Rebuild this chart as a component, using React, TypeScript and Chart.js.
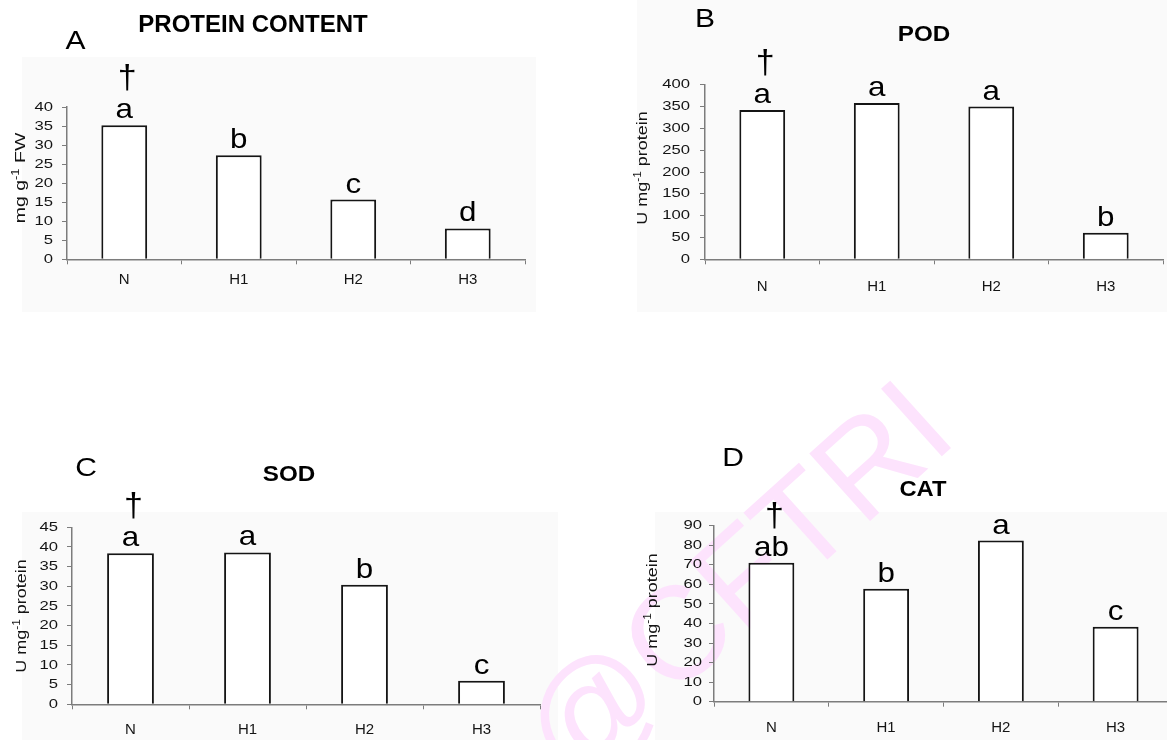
import React, { useEffect, useRef } from "react";
import { Chart, registerables } from "chart.js";

Chart.register(...registerables);

// ---- data ----
const categories = ["N", "H1", "H2", "H3"];

const proteinValues = [35.2, 27.3, 15.7, 8.1];
const proteinLetters = ["a", "b", "c", "d"];
const proteinTicks = [0, 5, 10, 15, 20, 25, 30, 35, 40];

const podValues = [342, 358, 350, 61];
const podLetters = ["a", "a", "a", "b"];
const podTicks = [0, 50, 100, 150, 200, 250, 300, 350, 400];

const sodValues = [38.4, 38.6, 30.4, 6.0];
const sodLetters = ["a", "a", "b", "c"];
const sodTicks = [0, 5, 10, 15, 20, 25, 30, 35, 40, 45];

const catValues = [71.0, 57.7, 82.4, 38.3];
const catLetters = ["ab", "b", "a", "c"];
const catTicks = [0, 10, 20, 30, 40, 50, 60, 70, 80, 90];

// ---- styling ----
const FONT = "'Liberation Sans', Arial, Helvetica, sans-serif";
const AXIS_GRAY = "#7c7c7c";
const TEXT_DARK = "#141414";
const PAGE_W = 1167;
const PAGE_H = 740;

type Rect = { x: number; y: number; w: number; h: number };

type PanelSpec = {
  id: string;
  letter: string;
  title: string;
  titleSize: number;
  titleSx: number;
  yTitle: [string, string, string];
  yTitleSx: number;
  values: number[];
  letters: string[];
  ticks: number[];
  canvas: Rect;
  area: { left: number; right: number; top: number; bottom: number };
  yLabelRight: number;
  xLabelY: number;
  yTitlePos: [number, number];
  letterPos: [number, number];
  titlePos: [number, number];
};

const panels: PanelSpec[] = [
  {
    id: "protein",
    letter: "A",
    title: "PROTEIN CONTENT",
    titleSize: 24,
    titleSx: 1.0,
    yTitle: ["mg g", "-1", " FW"],
    yTitleSx: 1.3,
    values: proteinValues,
    letters: proteinLetters,
    ticks: proteinTicks,
    canvas: { x: 0, y: 0, w: 583, h: 370 },
    area: { left: 67, right: 525, top: 107, bottom: 259.3 },
    yLabelRight: 53,
    xLabelY: 279.5,
    yTitlePos: [20, 178],
    letterPos: [75.5, 42.5],
    titlePos: [253, 25],
  },
  {
    id: "pod",
    letter: "B",
    title: "POD",
    titleSize: 22,
    titleSx: 1.1,
    yTitle: ["U mg", "-1", " protein"],
    yTitleSx: 1.2,
    values: podValues,
    letters: podLetters,
    ticks: podTicks,
    canvas: { x: 583, y: 0, w: 584, h: 370 },
    area: { left: 705, right: 1163, top: 84.7, bottom: 259.3 },
    yLabelRight: 690,
    xLabelY: 286.5,
    yTitlePos: [642, 168],
    letterPos: [705, 20],
    titlePos: [924, 35],
  },
  {
    id: "sod",
    letter: "C",
    title: "SOD",
    titleSize: 22,
    titleSx: 1.1,
    yTitle: ["U mg", "-1", " protein"],
    yTitleSx: 1.2,
    values: sodValues,
    letters: sodLetters,
    ticks: sodTicks,
    canvas: { x: 0, y: 370, w: 583, h: 370 },
    area: { left: 72, right: 540, top: 527.3, bottom: 704.3 },
    yLabelRight: 58,
    xLabelY: 730,
    yTitlePos: [21, 616],
    letterPos: [86, 469],
    titlePos: [289, 475],
  },
  {
    id: "cat",
    letter: "D",
    title: "CAT",
    titleSize: 22,
    titleSx: 1.08,
    yTitle: ["U mg", "-1", " protein"],
    yTitleSx: 1.2,
    values: catValues,
    letters: catLetters,
    ticks: catTicks,
    canvas: { x: 583, y: 370, w: 600, h: 370 },
    area: { left: 714, right: 1173, top: 525.7, bottom: 701.7 },
    yLabelRight: 702,
    xLabelY: 728,
    yTitlePos: [652, 610],
    letterPos: [733, 459],
    titlePos: [923, 490],
  },
];

// Draws text horizontally stretched by sx around its anchor point.
function drawText(
  ctx: CanvasRenderingContext2D,
  text: string,
  x: number,
  y: number,
  font: string,
  align: CanvasTextAlign,
  baseline: CanvasTextBaseline,
  sx: number,
  color: string
) {
  ctx.save();
  ctx.translate(x, y);
  ctx.scale(sx, 1);
  ctx.font = font;
  ctx.textAlign = align;
  ctx.textBaseline = baseline;
  ctx.fillStyle = color;
  ctx.fillText(text, 0, 0);
  ctx.restore();
}

// Vertical axis title with a superscript exponent, read bottom to top.
function drawAxisTitle(
  ctx: CanvasRenderingContext2D,
  parts: [string, string, string],
  cx: number,
  cy: number,
  sx: number
) {
  const main = `15px ${FONT}`;
  const small = `10px ${FONT}`;
  ctx.save();
  ctx.translate(cx, cy);
  ctx.rotate(-Math.PI / 2);
  ctx.scale(sx, 1);
  ctx.fillStyle = TEXT_DARK;
  ctx.textBaseline = "alphabetic";
  ctx.textAlign = "left";
  ctx.font = main;
  const w1 = ctx.measureText(parts[0]).width;
  const w3 = ctx.measureText(parts[2]).width;
  ctx.font = small;
  const w2 = ctx.measureText(parts[1]).width;
  let x = -(w1 + w2 + w3) / 2;
  const base = 5;
  ctx.font = main;
  ctx.fillText(parts[0], x, base);
  x += w1;
  ctx.font = small;
  ctx.fillText(parts[1], x, base - 6);
  x += w2;
  ctx.font = main;
  ctx.fillText(parts[2], x, base);
  ctx.restore();
}

function makeTextPlugin(p: PanelSpec) {
  return {
    id: "panelText_" + p.id,
    afterDraw(chart: any) {
      const ctx: CanvasRenderingContext2D = chart.ctx;
      const ox = p.canvas.x;
      const oy = p.canvas.y;
      const xs = chart.scales.x;
      const ys = chart.scales.y;

      p.ticks.forEach((v) => {
        drawText(ctx, String(v), p.yLabelRight - ox, ys.getPixelForValue(v),
          `13px ${FONT}`, "right", "middle", 1.28, TEXT_DARK);
      });

      categories.forEach((c, i) => {
        drawText(ctx, c, xs.getPixelForValue(i), p.xLabelY - oy,
          `15px ${FONT}`, "center", "middle", 1.0, TEXT_DARK);
      });

      const meta = chart.getDatasetMeta(0);
      meta.data.forEach((bar: any, i: number) => {
        drawText(ctx, p.letters[i], bar.x, bar.y - 7,
          `28px ${FONT}`, "center", "alphabetic", 1.12, "#000");
      });

      const first = meta.data[0];
      drawText(ctx, "\u2020", first.x + 3, first.y - 37,
        `34px ${FONT}`, "center", "alphabetic", 1.0, "#000");

      drawText(ctx, p.letter, p.letterPos[0] - ox, p.letterPos[1] - oy,
        `25px ${FONT}`, "center", "middle", 1.2, "#000");

      drawText(ctx, p.title, p.titlePos[0] - ox, p.titlePos[1] - oy,
        `bold ${p.titleSize}px ${FONT}`, "center", "middle", p.titleSx, "#000");

      drawAxisTitle(ctx, p.yTitle, p.yTitlePos[0] - ox, p.yTitlePos[1] - oy, p.yTitleSx);
    },
  };
}

function PanelChart({ spec }: { spec: PanelSpec }) {
  const ref = useRef<HTMLCanvasElement | null>(null);

  useEffect(() => {
    const canvas = ref.current;
    if (!canvas) return;
    const { canvas: c, area } = spec;
    const axisBox = 1;
    const chart = new Chart(canvas, {
      type: "bar",
      data: {
        labels: categories,
        datasets: [
          {
            data: spec.values,
            backgroundColor: "#ffffff",
            borderColor: "#151515",
            borderWidth: 2,
            barPercentage: 0.4,
            categoryPercentage: 1.0,
          },
        ],
      },
      options: {
        responsive: false,
        maintainAspectRatio: false,
        devicePixelRatio: 1,
        animation: false,
        events: [],
        layout: {
          padding: {
            left: area.left - c.x - axisBox,
            right: c.x + c.w - area.right,
            top: area.top - c.y,
            bottom: c.y + c.h - area.bottom - axisBox,
          },
        },
        plugins: {
          legend: { display: false },
          tooltip: { enabled: false },
          title: { display: false },
        },
        scales: {
          x: {
            type: "category",
            offset: true,
            ticks: { display: false },
            grid: {
              display: true,
              offset: true,
              drawOnChartArea: false,
              drawTicks: true,
              tickLength: 5,
              color: AXIS_GRAY,
              lineWidth: 1,
            },
            border: { display: true, color: AXIS_GRAY, width: 1.5 },
            afterFit: (scale: any) => {
              scale.height = axisBox;
            },
          },
          y: {
            type: "linear",
            min: spec.ticks[0],
            max: spec.ticks[spec.ticks.length - 1],
            ticks: { display: false, stepSize: spec.ticks[1] - spec.ticks[0] },
            grid: {
              display: true,
              drawOnChartArea: false,
              drawTicks: true,
              tickLength: 5,
              color: AXIS_GRAY,
              lineWidth: 1,
            },
            border: { display: true, color: AXIS_GRAY, width: 1.5 },
            afterFit: (scale: any) => {
              scale.width = axisBox;
            },
          },
        },
      } as any,
      plugins: [makeTextPlugin(spec)],
    });
    return () => chart.destroy();
  }, [spec]);

  return (
    <canvas
      ref={ref}
      width={spec.canvas.w}
      height={spec.canvas.h}
      style={{
        position: "absolute",
        left: spec.canvas.x,
        top: spec.canvas.y,
        width: spec.canvas.w,
        height: spec.canvas.h,
      }}
    />
  );
}

// Panel backdrops and the faint diagonal mark drawn underneath the charts.
function Backdrop() {
  const ref = useRef<HTMLCanvasElement | null>(null);
  useEffect(() => {
    const canvas = ref.current;
    if (!canvas) return;
    const ctx = canvas.getContext("2d");
    if (!ctx) return;
    ctx.clearRect(0, 0, PAGE_W, PAGE_H);
    ctx.fillStyle = "#ffffff";
    ctx.fillRect(0, 0, PAGE_W, PAGE_H);

    ctx.fillStyle = "#fafafa";
    ctx.fillRect(22, 57, 514, 255);
    ctx.fillRect(637, 0, 530, 312);
    ctx.fillRect(22, 512, 536, 228);
    ctx.fillRect(655, 512, 512, 228);

    ctx.save();
    ctx.translate(960, 440);
    ctx.rotate((-42 * Math.PI) / 180);
    ctx.font = `132px ${FONT}`;
    ctx.textAlign = "right";
    ctx.textBaseline = "alphabetic";
    ctx.fillStyle = "#fde3fd";
    ctx.fillText("@CFTRI", 0, 0);
    ctx.restore();
  }, []);
  return (
    <canvas
      ref={ref}
      width={PAGE_W}
      height={PAGE_H}
      style={{ position: "absolute", left: 0, top: 0, width: PAGE_W, height: PAGE_H }}
    />
  );
}

export default function App() {
  return (
    <div
      style={{
        position: "fixed",
        left: 0,
        top: 0,
        width: PAGE_W,
        height: PAGE_H,
        overflow: "hidden",
        background: "#ffffff",
      }}
    >
      <Backdrop />
      {panels.map((p) => (
        <PanelChart key={p.id} spec={p} />
      ))}
    </div>
  );
}
